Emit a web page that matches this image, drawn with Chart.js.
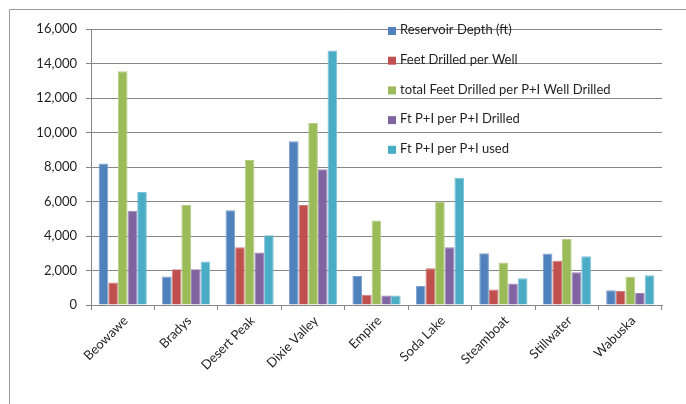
<!DOCTYPE html>
<html>
<head>
<meta charset="utf-8">
<script src="https://cdn.jsdelivr.net/npm/chart.js@4/dist/chart.umd.min.js"></script>
<style>
  html, body { margin: 0; padding: 0; background: #ffffff; }
  #wrap { width: 686px; height: 404px; position: relative; }
</style>
</head>
<body>
<div id="wrap"><canvas id="c" width="686" height="404"></canvas></div>
<script>
// Geothermal fields
const fields = ['Beowawe', 'Bradys', 'Desert Peak', 'Dixie Valley', 'Empire',
                'Soda Lake', 'Steamboat', 'Stillwater', 'Wabuska'];

// Footage per field (ft)
const reservoirDepth      = [8200, 1650, 5500, 9500, 1680, 1100, 3000, 2980, 850];
const feetPerWell         = [1300, 2070, 3350, 5800,  600, 2130,  900, 2570, 810];
const totalFeetPerPIWell  = [13550, 5800, 8400, 10550, 4900, 6000, 2460, 3820, 1630];
const ftPIperPIDrilled    = [5460, 2070, 3050, 7870,  550, 3350, 1240, 1900, 700];
const ftPIperPIUsed       = [6550, 2520, 4050, 14750, 550, 7370, 1550, 2830, 1730];

const seriesNames = ['Reservoir Depth (ft)', 'Feet Drilled per Well',
                     'total Feet Drilled per P+I Well Drilled',
                     'Ft P+I per P+I Drilled', 'Ft P+I per P+I used'];

const yTicks = [0, 2000, 4000, 6000, 8000, 10000, 12000, 14000, 16000];

const colors = ['#4F81BD', '#C0504D', '#9BBB59', '#8064A2', '#4BACC6'];
const edges  = ['#7d9fcc', '#d07d7b', '#b5cd86', '#9d88b8', '#7cc2d6'];

const seriesData = [reservoirDepth, feetPerWell, totalFeetPerPIWell, ftPIperPIDrilled, ftPIperPIUsed];

const FONT = 'Lato, "Liberation Sans", sans-serif';
const TEXT = '#1f1f1f';
const GRID = '#868686';

// Outer frame of the chart object
const framePlugin = {
  id: 'frame',
  beforeDraw(chart) {
    const ctx = chart.ctx;
    ctx.save();
    ctx.strokeStyle = '#9a9a9a';
    ctx.lineWidth = 1;
    ctx.beginPath();
    ctx.moveTo(9.5, 410);
    ctx.lineTo(9.5, 9.5);
    ctx.lineTo(700, 9.5);
    ctx.stroke();
    ctx.restore();
  }
};

// Legend drawn over the plot, transparent background
const legendPlugin = {
  id: 'overLegend',
  afterDraw(chart) {
    const ctx = chart.ctx;
    ctx.save();
    ctx.font = '13px ' + FONT;
    ctx.textBaseline = 'middle';
    ctx.textAlign = 'left';
    chart.data.datasets.forEach((ds, i) => {
      const y = 30 + i * 29.7;
      ctx.fillStyle = ds.backgroundColor;
      ctx.fillRect(388, y - 3, 8, 8);
      ctx.fillStyle = TEXT;
      ctx.fillText(ds.label, 400, y);
    });
    ctx.restore();
  }
};

new Chart(document.getElementById('c'), {
  type: 'bar',
  data: {
    labels: fields,
    datasets: seriesNames.map((name, i) => ({
      label: name,
      data: seriesData[i],
      backgroundColor: colors[i],
      borderColor: edges[i],
      borderWidth: 1,
      barPercentage: 1,
      categoryPercentage: 0.76
    }))
  },
  options: {
    responsive: false,
    devicePixelRatio: 1,
    animation: false,
    layout: { padding: { left: 0, top: 29, right: 24, bottom: 0 } },
    plugins: {
      legend: { display: false },
      tooltip: { enabled: false }
    },
    scales: {
      x: {
        afterFit(scale) { scale.height = 99; },
        grid: { display: true, drawOnChartArea: false, drawTicks: true, tickLength: 5, color: GRID, offset: true },
        border: { display: true, color: GRID },
        ticks: {
          minRotation: 45, maxRotation: 45, autoSkip: false,
          color: TEXT, font: { family: FONT, size: 13 }, padding: 3, labelOffset: 3
        }
      },
      y: {
        min: 0, max: 16000,
        afterFit(scale) { scale.width = 91; },
        afterBuildTicks(scale) { scale.ticks = yTicks.map(v => ({ value: v })); },
        grid: { color: GRID, tickLength: 5 },
        border: { display: true, color: GRID },
        ticks: {
          color: TEXT, font: { family: FONT, size: 13 }, padding: 9,
          callback: v => v.toLocaleString('en-US')
        }
      }
    }
  },
  plugins: [framePlugin, legendPlugin]
});
</script>
</body>
</html>
